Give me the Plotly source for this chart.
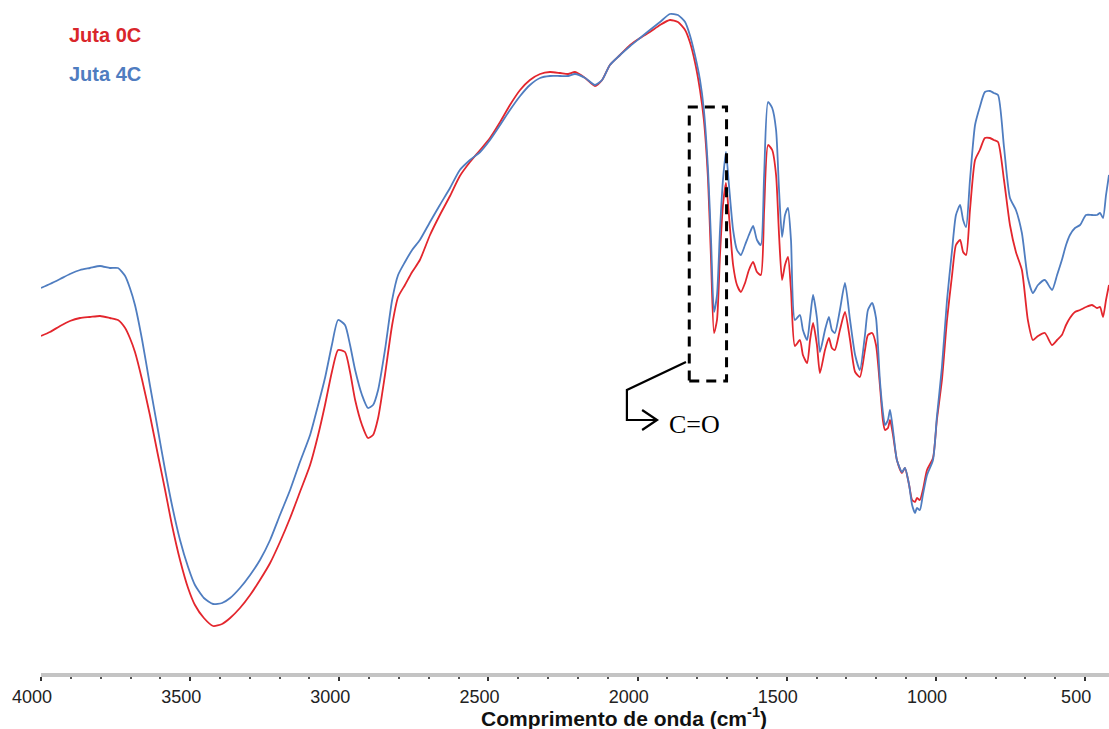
import plotly.graph_objects as go

# Wavenumber (cm^-1)
numero_onda = [4000, 3970, 3936, 3903, 3869, 3836, 3802, 3769, 3742, 3718, 3702, 3685, 3661, 3635, 3608,
               3584, 3561, 3534, 3507, 3484, 3454, 3423, 3393, 3366, 3333, 3299, 3266, 3232, 3199, 3165,
               3132, 3098, 3071, 3048, 3025, 3004, 2981, 2964, 2947, 2924, 2904, 2887, 2870, 2847, 2823,
               2803, 2780, 2756, 2730, 2696, 2663, 2629, 2596, 2562, 2528, 2495, 2461, 2428, 2394, 2361,
               2327, 2294, 2260, 2233, 2210, 2176, 2143, 2119, 2093, 2059, 2025, 1992, 1959, 1925, 1892,
               1865, 1841, 1825, 1808, 1791, 1778, 1764, 1754, 1744, 1734, 1724, 1714, 1704, 1694, 1680,
               1667, 1654, 1640, 1627, 1613, 1600, 1587, 1576, 1563, 1549, 1536, 1526, 1516, 1506, 1496,
               1486, 1473, 1456, 1446, 1432, 1422, 1412, 1399, 1389, 1372, 1359, 1349, 1339, 1322, 1305,
               1288, 1271, 1255, 1238, 1228, 1214, 1201, 1188, 1178, 1171, 1161, 1154, 1144, 1131, 1114,
               1104, 1090, 1080, 1070, 1064, 1054, 1044, 1030, 1010, 997, 980, 963, 946, 933, 919,
               909, 899, 886, 869, 853, 836, 819, 806, 792, 772, 752, 732, 712, 692, 675,
               658, 635, 611, 594, 578, 564, 551, 534, 517, 497, 477, 460, 450, 440, 430, 420]

# Juta 4C (blue), arbitrary transmittance units
juta_4c = [385, 389, 394, 399, 403, 405, 407, 405, 405, 397, 385, 368, 333, 288, 243,
           203, 168, 133, 106, 88, 75, 69, 70, 75, 85, 98, 113, 133, 158, 183,
           211, 238, 268, 295, 328, 353, 348, 328, 303, 278, 265, 268, 283, 323, 373,
           398, 411, 423, 433, 451, 468, 485, 503, 513, 521, 533, 548, 563, 577, 588,
           595, 597, 597, 597, 599, 595, 588, 593, 608, 618, 627, 635, 643, 651, 659,
           658, 651, 638, 618, 593, 563, 503, 433, 361, 378, 443, 493, 521, 488, 443,
           423, 418, 428, 438, 447, 433, 428, 498, 571, 565, 543, 483, 436, 458, 465,
           433, 353, 358, 343, 333, 355, 378, 355, 321, 343, 356, 343, 340, 363, 390,
           353, 318, 303, 338, 363, 370, 355, 293, 261, 248, 253, 263, 243, 213, 201,
           205, 188, 168, 160, 165, 163, 178, 198, 213, 256, 306, 373, 423, 458, 468,
           453, 446, 493, 548, 566, 581, 582, 580, 578, 526, 475, 463, 440, 395, 380,
           388, 393, 383, 398, 413, 428, 438, 445, 448, 458, 458, 458, 460, 455, 478, 498]

# Juta 0C (red), arbitrary transmittance units
juta_0c = [337, 341, 347, 352, 355, 356, 357, 355, 353, 345, 335, 321, 293, 258, 218,
           183, 148, 113, 85, 68, 55, 47, 49, 55, 65, 78, 93, 110, 131, 155,
           181, 208, 238, 268, 301, 323, 321, 301, 273, 248, 235, 238, 255, 298, 348,
           376, 388, 401, 413, 438, 458, 477, 497, 511, 523, 535, 551, 568, 583, 593,
           599, 601, 600, 599, 601, 595, 587, 593, 608, 618, 628, 635, 641, 648, 653,
           651, 643, 631, 611, 583, 553, 493, 413, 340, 353, 418, 468, 490, 458, 408,
           388, 381, 390, 403, 411, 401, 398, 463, 528, 523, 498, 438, 393, 408, 416,
           383, 327, 333, 318, 310, 333, 350, 328, 300, 323, 335, 325, 323, 343, 361,
           333, 301, 296, 323, 338, 340, 328, 288, 253, 243, 245, 253, 238, 213, 200,
           205, 188, 173, 171, 175, 173, 183, 203, 215, 253, 293, 353, 398, 428, 433,
           421, 418, 463, 513, 523, 535, 535, 533, 531, 493, 448, 421, 403, 353, 333,
           337, 340, 328, 333, 338, 348, 355, 361, 363, 366, 368, 365, 366, 356, 373, 388]

tick_vals = [4000, 3500, 3000, 2500, 2000, 1500, 1000, 500]
tick_text = ["4000", "3500", "3000", "2500", "2000", "1500", "1000", "500"]

RED = "#e3262d"
BLUE = "#4f7dc0"
W, H = 1109, 729
L, B = 41, 56
PW, PH = W - L, H - B

fig = go.Figure()
fig.add_trace(go.Scatter(x=numero_onda, y=juta_0c, mode="lines", name="Juta 0C",
                         line=dict(color=RED, width=1.8, shape="spline", smoothing=0.6)))
fig.add_trace(go.Scatter(x=numero_onda, y=juta_4c, mode="lines", name="Juta 4C",
                         line=dict(color=BLUE, width=1.8, shape="spline", smoothing=0.6)))

# Dashed box around the C=O band
fig.add_shape(type="rect", xref="x", yref="y", x0=1827, x1=1702, y0=292, y1=566,
              line=dict(color="black", width=3, dash="10px,7px"), fillcolor="rgba(0,0,0,0)")
# Leader line and open arrow head
fig.add_shape(type="path", xref="x", yref="y",
              path="M 1838 311 L 2036 283 L 2036 253 L 1937 253",
              line=dict(color="black", width=2.2))
fig.add_shape(type="path", xref="x", yref="y",
              path="M 1985 263 L 1935 253 L 1985 243",
              line=dict(color="black", width=2.2))
fig.add_annotation(x=1902, y=249, xref="x", yref="y", text="C=O", showarrow=False,
                   xanchor="left", yanchor="middle",
                   font=dict(family="Liberation Serif, Times New Roman, serif", size=26, color="black"))

# Coloured labels acting as legend
fig.add_annotation(x=(67 - L) / PW, y=1 - 35 / PH, xref="paper", yref="paper", text="<b>Juta 0C</b>",
                   showarrow=False, xanchor="left", yanchor="middle",
                   font=dict(family="Liberation Sans, Arial", size=20, color="#d9262b"))
fig.add_annotation(x=(67 - L) / PW, y=1 - 74 / PH, xref="paper", yref="paper", text="<b>Juta 4C</b>",
                   showarrow=False, xanchor="left", yanchor="middle",
                   font=dict(family="Liberation Sans, Arial", size=20, color="#4f7cc0"))

# Axis title
fig.add_annotation(x=(624 - L) / PW, y=-(717 - PH) / PH, xref="paper", yref="paper",
                   text="<b>Comprimento de onda (cm<sup>-1</sup>)</b>", showarrow=False,
                   xanchor="center", yanchor="middle",
                   font=dict(family="Liberation Sans, Arial", size=21, color="#111"))

fig.update_layout(
    width=W, height=H,
    margin=dict(l=L, r=0, t=0, b=B),
    paper_bgcolor="white", plot_bgcolor="white",
    showlegend=False,
    xaxis=dict(range=[4000, 420], tickvals=tick_vals, ticktext=tick_text,
               showgrid=False, zeroline=False, showline=True, linecolor="#c4c4c4", linewidth=4,
               ticks="outside", ticklen=4, tickwidth=2, tickcolor="#333",
               ticklabelshift=9,
               minor=dict(dtick=100, tick0=0, ticks="outside", ticklen=2, tickwidth=2, tickcolor="#555"),
               tickfont=dict(family="Liberation Sans, Arial", size=18, color="#222")),
    yaxis=dict(range=[0, 673], visible=False),
)

fig.write_html("out.html")
